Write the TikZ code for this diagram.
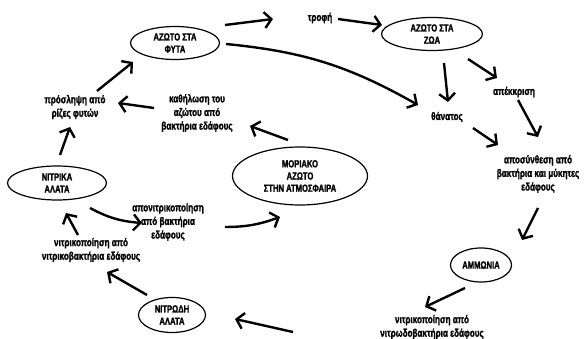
\documentclass[tikz,border=0pt]{standalone}
\usepackage{fontspec}
\setmainfont{Liberation Sans}[UprightFont={* Bold},BoldFont={* Bold},FakeStretch=0.74,FakeBold=1.6]
\usetikzlibrary{arrows.meta,shapes.geometric,bending}
\begin{document}
\begin{tikzpicture}[x=1pt,y=1pt,
  ell/.style={ellipse,draw,line width=1.2pt,inner sep=0pt,align=center,
    font=\fontsize{10.3}{12.2}\selectfont},
  lbl/.style={inner sep=1pt,align=center,font=\fontsize{11}{13.6}\selectfont},
  arr/.style={line width=2.4pt,-{Straight Barb[length=7pt,width=16pt,flex]}}]
\useasboundingbox (0,0) rectangle (587,-339);
% nodes
\node[ell,minimum width=89,minimum height=33] (phyta) at (175,-43) {ΑΖΩΤΟ ΣΤΑ\\ΦΥΤΑ};
\node[ell,minimum width=101,minimum height=33] (zoa) at (432,-34) {ΑΖΩΤΟ ΣΤΑ\\ΖΩΑ};
\node[ell,minimum width=61,minimum height=34] (ammonia) at (481,-265) {ΑΜΜΩΝΙΑ};
\node[ell,minimum width=67,minimum height=35] (nitrodi) at (172,-315) {ΝΙΤΡΩΔΗ\\ΑΛΑΤΑ};
\node[ell,minimum width=99,minimum height=34] (nitrika) at (57,-183) {ΝΙΤΡΙΚΑ\\ΑΛΑΤΑ};
\node[ell,minimum width=135,minimum height=58] (moriako) at (300,-176) {ΜΟΡΙΑΚΟ\\ΑΖΩΤΟ\\ΣΤΗΝ ΑΤΜΟΣΦΑΙΡΑ};
\node[lbl] (trofi) at (320,-18) {τροφή};
\node[lbl] (thanatos) at (447,-117) {θάνατος};
\node[lbl] (apekkrisi) at (514,-92) {απέκκριση};
\node[lbl] (aposynthesi) at (538,-174) {αποσύνθεση από\\βακτήρια και μύκητες\\εδάφους};
\node[lbl] (nitrif2) at (432,-327) {νιτρικοποίηση από\\νιτρωδοβακτήρια εδάφους};
\node[lbl] (nitrif1) at (91,-250) {νιτρικοποίηση από\\νιτρικοβακτήρια εδάφους};
\node[lbl] (aponitr) at (168,-222) {απονιτρικοποίηση\\από βακτήρια\\εδάφους};
\node[lbl] (kathilosi) at (197,-113) {καθήλωση του\\αζώτου από\\βακτήρια εδάφους};
\node[lbl] (proslipsi) at (75,-107) {πρόσληψη από\\ρίζες φυτών};
% arrows
\draw[arr] ([shift={(50,18)}]phyta.center) -- ([shift={(-47,-1)}]trofi.center);
\draw[arr] ([shift={(18,-1)}]trofi.center) -- ([shift={(-50,9)}]zoa.center);
\draw[arr] ([shift={(51,-1)}]phyta.center) to[bend left=12] ([shift={(-29,12)}]thanatos.center);
\draw[arr] ([shift={(12,-29)}]zoa.center) -- ([shift={(1,15)}]thanatos.center);
\draw[arr] ([shift={(36,-25)}]zoa.center) -- ([shift={(-17,14)}]apekkrisi.center);
\draw[arr] ([shift={(4,-8)}]apekkrisi.center) -- ([shift={(0,37)}]aposynthesi.center);
\draw[arr] ([shift={(26,-11)}]thanatos.center) -- ([shift={(-40,29)}]aposynthesi.center);
\draw[arr] ([shift={(0,-34)}]aposynthesi.center) -- ([shift={(41,25)}]ammonia.center);
\draw[arr] ([shift={(-16,-23)}]ammonia.center) -- ([shift={(-7,20)}]nitrif2.center);
\draw[arr] ([shift={(-139,-5)}]nitrif2.center) -- ([shift={(63,-4)}]nitrodi.center);
\draw[arr] ([shift={(-25,20)}]nitrodi.center) -- ([shift={(16,-22)}]nitrif1.center);
\draw[arr] ([shift={(-13,15)}]nitrif1.center) -- ([shift={(9,-30)}]nitrika.center);
\draw[arr] ([shift={(33,-25)}]nitrika.center) to[bend right=12] ([shift={(-26,-1)}]aponitr.center);
\draw[arr] ([shift={(57,-5)}]aponitr.center) to[bend right=10] ([shift={(-20,-41)}]moriako.center);
\draw[arr] ([shift={(-12,36)}]moriako.center) -- ([shift={(53,-13)}]kathilosi.center);
\draw[arr] ([shift={(-43,5)}]kathilosi.center) -- ([shift={(43,4)}]proslipsi.center);
\draw[arr] ([shift={(3,28)}]nitrika.center) -- ([shift={(-5,-20)}]proslipsi.center);
\draw[arr] ([shift={(22,16)}]proslipsi.center) -- ([shift={(-42,-19)}]phyta.center);
\end{tikzpicture}
\end{document}
